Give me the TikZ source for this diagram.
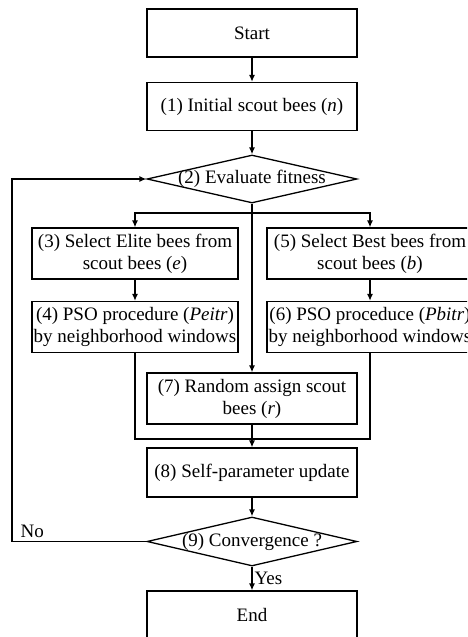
\documentclass[tikz,border=0pt]{standalone}
\usepackage{fontspec}
\setmainfont{Liberation Serif}
\usetikzlibrary{shapes.geometric,arrows.meta}

\begin{document}
\begin{tikzpicture}[x=1pt,y=-1pt,>={Latex[length=7pt,width=6pt]},line width=1.3pt,
   font=\fontsize{19}{22}\selectfont,
   box/.style={rectangle,draw,minimum width=210pt,
    minimum height=48pt,inner sep=1pt,align=center},
   sidebox/.style={box,minimum width=206pt,minimum height=51pt},
   test/.style={diamond,draw,minimum width=210pt,
    minimum height=48pt,inner sep=0pt}
    ]

    \clip (0,0) rectangle (467,637);

    % Main column:
    \node[box] at (252,33) (start) {Start};
    \node[box] at (252,106.5) (init) {(1) Initial scout bees (\textit{n})};
    \node[test] at (252,179) (eval) {\makebox[0pt]{(2) Evaluate fitness}};

    % Elite / best branches:
    \node[sidebox] at (135,253.5) (elite) {(3) Select Elite bees from\\scout bees (\textit{e})};
    \node[sidebox] at (135,327) (pso1) {(4) PSO procedure (\textit{Peitr})\\by neighborhood windows};
    \node[sidebox] at (370,253.5) (best) {(5) Select Best bees from\\scout bees (\textit{b})};
    \node[sidebox] at (370,327) (pso2) {(6) PSO proceduce (\textit{Pbitr})\\by neighborhood windows};

    % Random / update / end:
    \node[box,minimum height=51pt] at (252,398.5) (rand) {(7) Random assign scout\\bees (\textit{r})};
    \node[box,minimum height=49pt] at (252,472.5) (update) {(8) Self-parameter update};
    \node[test,minimum height=49pt] at (252,541.5) (conv) {\makebox[0pt]{(9) Convergence ?}};
    \node[box] at (252,615) (end) {End};

    % helper points
    \coordinate (split) at (252,213);
    \coordinate (join) at (252,439);
    \coordinate (loop) at (12,541.5);

    % arrows
    \draw[->] (start) -- (init);
    \draw[->] (init) -- (eval);
    \draw (eval.south) -- (split);
    \draw[->] (split) -| (elite.north);
    \draw[->] (split) -| (best.north);
    \draw[->] (split) -- (rand.north);
    \draw[->] (elite) -- (pso1);
    \draw[->] (best) -- (pso2);
    \draw (pso1.south) |- (join);
    \draw (pso2.south) |- (join);
    \draw[->] (rand) -- (update);
    \draw[->] (update) -- (conv);
    \draw[->] (conv.south) -- node[right,inner sep=2pt]{Yes} (end.north);
    \draw[->] (conv.west) -- node[pos=0.85,above]{No} (loop) |- (eval.west);

\end{tikzpicture}
\end{document}
